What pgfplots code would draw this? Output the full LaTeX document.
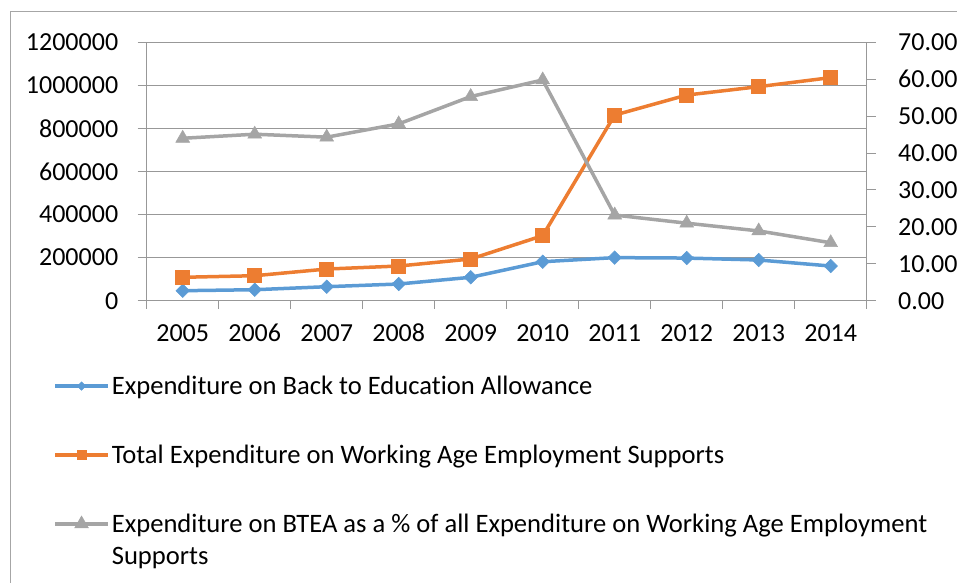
\documentclass[border=0pt]{standalone}
\usepackage{fontspec}
\setmainfont{Carlito}[Ligatures=NoCommon]
\usepackage{pgfplots}
\pgfplotsset{compat=1.18}
\definecolor{cblue}{HTML}{5B9BD5}
\definecolor{corange}{HTML}{ED7D31}
\definecolor{cgray}{HTML}{A5A5A5}
\definecolor{gridc}{HTML}{989898}
\definecolor{framec}{HTML}{A6A6A6}

\pgfplotsset{
  base/.style={
    at={(146.7bp,282.3bp)}, anchor=south west,
    scale only axis, width=720bp, height=258.4bp,
    xmin=-0.5, xmax=9.5,
    tick label style={font=\fontsize{26bp}{31bp}\selectfont},
    /pgf/number format/assume math mode=true,
    tick align=outside,
    major tick length=9bp, minor tick length=8bp,
    tick style={gridc, line width=1bp},
  },
  longline/.style={
    legend image code/.code={
      \draw[mark repeat=2, mark phase=2, ##1] plot coordinates {(0bp,8.5bp) (26.5bp,8.5bp) (53bp,8.5bp)};
    }
  },
}

\begin{document}
\begin{tikzpicture}
\useasboundingbox (0,0) rectangle (957bp,583bp);
\draw[framec, line width=1bp] (10bp,-2bp) -- (10bp,571bp) -- (960bp,571bp);

\begin{axis}[
  base,
  ymin=0, ymax=1200000,
  ytick={0,200000,400000,600000,800000,1000000,1200000},
  scaled y ticks=false,
  yticklabel style={xshift=-16bp, /pgf/number format/.cd, fixed, 1000 sep={}},
  xticklabel style={yshift=-11bp},
  xtick={0,...,9},
  xticklabels={2005,2006,2007,2008,2009,2010,2011,2012,2013,2014},
  major x tick style={draw=none},
  minor xtick={-0.5,0.5,...,9.5},
  xtick pos=bottom, ytick pos=left,
  ymajorgrids, grid style={gridc, line width=1bp},
  axis line style={gridc, line width=1bp},
]
\addplot[cblue, line width=3.5bp, mark=square*, mark size=4.8bp,
  mark options={rotate=45, line width=0.5bp}]
  coordinates {(0,46400) (1,51000) (2,65000) (3,77500) (4,108700)
               (5,181000) (6,200000) (7,198000) (8,189000) (9,161000)};
\addplot[corange, line width=3.5bp, mark=square*, mark size=7bp,
  mark options={line width=0.5bp}]
  coordinates {(0,108700) (1,116000) (2,147000) (3,161000) (4,193600)
               (5,302000) (6,862000) (7,955000) (8,994000) (9,1036000)};
\end{axis}

\begin{axis}[
  base,
  ymin=0, ymax=70,
  ytick={0,10,...,70},
  yticklabel style={xshift=19bp, /pgf/number format/.cd, fixed, fixed zerofill, precision=2},
  xtick=\empty,
  ytick pos=right,
  axis line style={draw=none},
  legend style={
    at={(-0.130,-0.291)}, anchor=north west,
    draw=none, fill=none, inner sep=0pt,
    font=\fontsize{26.6bp}{32bp}\selectfont,
    nodes={inner sep=0pt},
    cells={anchor=base west},
    row sep=49bp, column sep=2bp,
  },
  longline,
]
\addlegendimage{cblue, line width=3.5bp, mark=square*, mark size=3bp,
  mark options={rotate=45, line width=0.5bp}}
\addlegendentry{Expenditure on Back to Education Allowance}
\addlegendimage{corange, line width=3.5bp, mark=square*, mark size=4.5bp,
  mark options={line width=0.5bp}}
\addlegendentry{Total Expenditure on Working Age Employment Supports}
\addplot[cgray, line width=3.5bp, mark=triangle*, mark size=8bp,
  mark options={line width=0.5bp}]
  coordinates {(0,44.0) (1,45.1) (2,44.3) (3,47.9) (4,55.3)
               (5,59.8) (6,23.2) (7,21.0) (8,18.9) (9,15.7)};
\addlegendentry{\vtop{\baselineskip=32bp
  \hbox{Expenditure on BTEA as a \% of all Expenditure on Working Age Employment}
  \hbox{Supports}}}
\end{axis}
\end{tikzpicture}
\end{document}
